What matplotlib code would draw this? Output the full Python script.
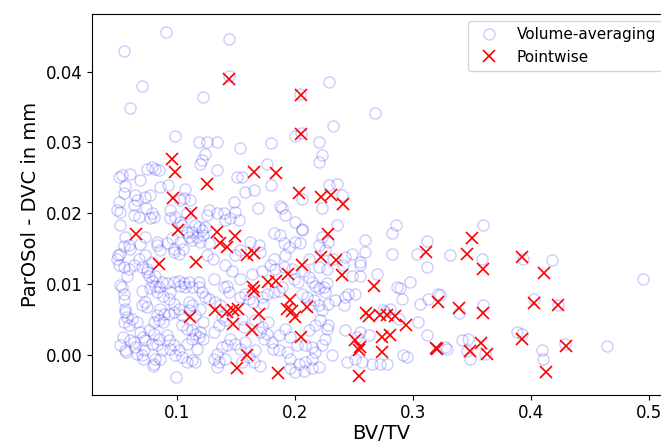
import numpy as np
import matplotlib
matplotlib.use("Agg")
from matplotlib import pyplot as plt

# Volume-averaging comparison: BV/TV vs ParOSol - DVC difference (mm)
bvtv_vol = [
    0.0909, 0.0556, 0.1441, 0.0703, 0.0604, 0.1220, 0.1441, 0.2291, 0.2049, 0.2681, 0.2325, 0.2051,
    0.0988, 0.1192, 0.1257, 0.1242, 0.1214, 0.1200, 0.0508, 0.0536, 0.0607, 0.0748, 0.0791, 0.0819,
    0.0847, 0.0692, 0.0861, 0.0929, 0.0776, 0.0649, 0.0664, 0.0636, 0.0508, 0.0494, 0.0522, 0.0551,
    0.0562, 0.1031, 0.1059, 0.1115, 0.1070, 0.0791, 0.0805, 0.0776, 0.0636, 0.0678, 0.0946, 0.0943,
    0.0986, 0.1085, 0.0731, 0.0740, 0.1031, 0.1045, 0.1158, 0.1186, 0.1130, 0.1271, 0.1257, 0.0522,
    0.0564, 0.0593, 0.0607, 0.0734, 0.0833, 0.0918, 0.0960, 0.0975, 0.1102, 0.1130, 0.1172, 0.1214,
    0.1242, 0.0522, 0.0494, 0.0678, 0.0975, 0.1017, 0.1271, 0.0689, 0.0731, 0.0831, 0.0858, 0.1028,
    0.1056, 0.0788, 0.1197, 0.1225, 0.1085, 0.1254, 0.0553, 0.0505,
    0.1342, 0.1539, 0.1802, 0.2005, 0.2208, 0.2231, 0.2203, 0.1765, 0.1342, 0.1511, 0.1553, 0.1581,
    0.1653, 0.1802, 0.2293, 0.1878, 0.1892, 0.1920, 0.1689, 0.1483, 0.1497, 0.1454, 0.1525, 0.1398,
    0.1412, 0.1342, 0.2231, 0.2059, 0.2005, 0.2062, 0.1822, 0.1907, 0.1949, 0.2005, 0.2047, 0.1624,
    0.1695, 0.1708, 0.1539, 0.1497, 0.2203, 0.2231, 0.2259, 0.2119, 0.1822, 0.1310, 0.1875, 0.2059,
    0.2285, 0.1918,
    0.2358, 0.2401, 0.2358, 0.2861, 0.2825, 0.3598, 0.2598, 0.2598, 0.2486, 0.2556, 0.2825, 0.3121,
    0.3036, 0.3319, 0.2426, 0.2327, 0.3585, 0.4178, 0.3932,
    0.0508, 0.0551, 0.0593, 0.0636, 0.0706, 0.0763, 0.0819, 0.0748, 0.0536, 0.0551, 0.0564, 0.0579,
    0.0551, 0.0593, 0.0522, 0.0564, 0.0607, 0.0636, 0.0649, 0.0706, 0.0720, 0.0734, 0.0706, 0.0748,
    0.0791, 0.0819, 0.0776, 0.0847, 0.0875, 0.0918, 0.0975, 0.1017, 0.1059, 0.1102, 0.1130, 0.1186,
    0.0890, 0.0932, 0.0975, 0.0805, 0.0847, 0.0763, 0.0805, 0.0847, 0.0734, 0.0791, 0.0833, 0.0875,
    0.0932, 0.0975, 0.1017, 0.1045, 0.1087, 0.1130, 0.1158, 0.0819, 0.0805, 0.0932, 0.0975, 0.1017,
    0.1102, 0.1130, 0.1102, 0.1158, 0.1045, 0.1087, 0.1130, 0.1158, 0.1186, 0.1130, 0.1087, 0.1186,
    0.1214, 0.1242, 0.1271, 0.1031, 0.1073, 0.0946, 0.0994, 0.0553, 0.0562, 0.0619, 0.0547, 0.0570,
    0.0661, 0.0689, 0.0717, 0.0661, 0.0717, 0.0802, 0.0858, 0.0703, 0.0746, 0.0886, 0.0831, 0.1225,
    0.1197, 0.1225, 0.1169, 0.0915, 0.0943, 0.0986, 0.0858, 0.0831, 0.0886, 0.1042, 0.1197, 0.0519,
    0.0576,
    0.1412, 0.1469, 0.1638, 0.1723, 0.1793, 0.1836, 0.1907, 0.1977, 0.2076, 0.2119, 0.2203, 0.2274,
    0.1314, 0.1398, 0.1441, 0.1581, 0.1539, 0.1610, 0.1723, 0.1765, 0.1822, 0.1864, 0.2147, 0.2175,
    0.2203, 0.2246, 0.2274, 0.2259, 0.2062, 0.2104, 0.2161, 0.2203, 0.2231, 0.1327, 0.1369, 0.1384,
    0.1412, 0.1356, 0.1314, 0.1553, 0.1568, 0.1666, 0.1723, 0.1765, 0.1737, 0.1808, 0.1864, 0.1454,
    0.1497, 0.1539, 0.1581, 0.1426, 0.1384, 0.1412, 0.1356, 0.1314, 0.1342, 0.1666, 0.1610, 0.1553,
    0.1653, 0.1708, 0.1864, 0.1935, 0.1963, 0.2034, 0.2090, 0.2147, 0.2175, 0.2203, 0.2147, 0.2076,
    0.2005, 0.1963, 0.1920, 0.1963, 0.2019, 0.2090, 0.2147, 0.2231, 0.2259, 0.2274, 0.2217, 0.2175,
    0.2119, 0.1424, 0.1536, 0.1890, 0.1997, 0.2031, 0.1649, 0.1734, 0.1776, 0.1706, 0.2130, 0.2285,
    0.2285, 0.1339, 0.1819,
    0.2454, 0.2511, 0.2426, 0.2892, 0.2907, 0.2977, 0.3062, 0.3132, 0.3217, 0.2808, 0.2751, 0.3598,
    0.3047, 0.3119, 0.2426, 0.2553, 0.3415, 0.3471, 0.3881, 0.3924, 0.4093, 0.4102, 0.4644, 0.4291,
    0.3288, 0.3486, 0.3613, 0.2920, 0.2949, 0.2780, 0.2723, 0.2653, 0.2568, 0.2441, 0.2314, 0.3231,
    0.3392, 0.4031, 0.4234, 0.3458, 0.2695, 0.2553, 0.2553, 0.2483, 0.2412, 0.4952, 0.3121, 0.2344,
    0.2415, 0.2768, 0.2881, 0.2528, 0.2627, 0.2514, 0.3276, 0.2867,
]
err_vol = [
    0.0456, 0.0429, 0.0446, 0.0379, 0.0349, 0.0364, 0.0394, 0.0385, 0.0368, 0.0342, 0.0323, 0.0313,
    0.0309, 0.0301, 0.0300, 0.0284, 0.0275, 0.0269, 0.0251, 0.0254, 0.0256, 0.0263, 0.0266, 0.0263,
    0.0261, 0.0247, 0.0237, 0.0240, 0.0226, 0.0226, 0.0219, 0.0212, 0.0216, 0.0204, 0.0202, 0.0228,
    0.0238, 0.0219, 0.0221, 0.0219, 0.0235, 0.0200, 0.0195, 0.0193, 0.0197, 0.0195, 0.0193, 0.0205,
    0.0195, 0.0200, 0.0223, 0.0208, 0.0188, 0.0183, 0.0183, 0.0181, 0.0174, 0.0205, 0.0197, 0.0183,
    0.0167, 0.0155, 0.0150, 0.0167, 0.0160, 0.0158, 0.0165, 0.0150, 0.0167, 0.0162, 0.0167, 0.0176,
    0.0181, 0.0143, 0.0136, 0.0136, 0.0146, 0.0143, 0.0158, 0.0157, 0.0141, 0.0155, 0.0148, 0.0159,
    0.0150, 0.0131, 0.0159, 0.0169, 0.0173, 0.0141, 0.0154, 0.0141,
    0.0301, 0.0292, 0.0299, 0.0309, 0.0301, 0.0282, 0.0273, 0.0270, 0.0261, 0.0251, 0.0251, 0.0230,
    0.0233, 0.0240, 0.0240, 0.0210, 0.0208, 0.0197, 0.0208, 0.0216, 0.0202, 0.0193, 0.0190, 0.0200,
    0.0190, 0.0200, 0.0207, 0.0220, 0.0188, 0.0176, 0.0172, 0.0158, 0.0153, 0.0160, 0.0158, 0.0160,
    0.0155, 0.0146, 0.0148, 0.0141, 0.0155, 0.0167, 0.0148, 0.0136, 0.0136, 0.0136, 0.0169, 0.0178,
    0.0159, 0.0141,
    0.0242, 0.0226, 0.0183, 0.0184, 0.0172, 0.0183, 0.0162, 0.0146, 0.0143, 0.0132, 0.0143, 0.0161,
    0.0143, 0.0141, 0.0138, 0.0136, 0.0136, 0.0134, 0.0135,
    0.0127, 0.0124, 0.0122, 0.0127, 0.0124, 0.0112, 0.0112, 0.0117, 0.0096, 0.0086, 0.0065, 0.0054,
    0.0047, 0.0042, 0.0014, 0.0007, 0.0021, 0.0018, 0.0011, 0.0000, 0.0007, 0.0075, 0.0070, 0.0068,
    0.0105, 0.0098, 0.0094, 0.0096, 0.0103, 0.0101, 0.0103, 0.0105, 0.0101, 0.0103, 0.0096, 0.0103,
    0.0058, 0.0058, 0.0061, 0.0047, 0.0049, 0.0035, 0.0030, 0.0023, 0.0021, 0.0016, 0.0014, 0.0007,
    0.0021, 0.0014, 0.0007, -0.0003, -0.0010, -0.0007, -0.0010, -0.0005, -0.0012, 0.0079, 0.0072, 0.0065,
    0.0075, 0.0070, 0.0063, 0.0056, 0.0042, 0.0037, 0.0035, 0.0030, 0.0025, 0.0023, 0.0016, 0.0096,
    0.0089, 0.0082, 0.0079, 0.0098, 0.0096, 0.0089, -0.0031, 0.0077, 0.0061, 0.0051, 0.0025, 0.0004,
    0.0047, 0.0032, 0.0025, 0.0002, -0.0005, -0.0015, -0.0005, 0.0091, 0.0122, 0.0084, 0.0089, 0.0047,
    0.0032, 0.0023, 0.0009, 0.0028, 0.0009, 0.0000, 0.0065, 0.0056, 0.0047, 0.0056, 0.0065, 0.0099,
    0.0112,
    0.0127, 0.0118, 0.0115, 0.0118, 0.0127, 0.0122, 0.0124, 0.0122, 0.0118, 0.0110, 0.0124, 0.0122,
    0.0108, 0.0096, 0.0089, 0.0086, 0.0082, 0.0079, 0.0082, 0.0086, 0.0089, 0.0091, 0.0103, 0.0098,
    0.0094, 0.0096, 0.0101, 0.0089, 0.0086, 0.0082, 0.0077, 0.0070, 0.0063, 0.0075, 0.0070, 0.0054,
    0.0049, 0.0042, 0.0032, 0.0051, 0.0039, 0.0049, 0.0039, 0.0030, 0.0023, 0.0018, 0.0028, 0.0023,
    0.0016, 0.0009, 0.0018, 0.0014, 0.0011, -0.0005, -0.0010, -0.0005, -0.0017, 0.0007, -0.0003, -0.0010,
    -0.0010, -0.0015, 0.0007, 0.0004, -0.0005, -0.0012, -0.0010, -0.0005, 0.0004, -0.0017, -0.0019, -0.0022,
    -0.0024, -0.0019, 0.0037, 0.0025, 0.0014, 0.0014, 0.0011, 0.0014, 0.0023, 0.0037, 0.0049, 0.0042,
    0.0035, 0.0098, 0.0108, 0.0096, 0.0108, 0.0103, 0.0075, 0.0072, 0.0047, 0.0032, 0.0070, 0.0042,
    0.0072, 0.0002, 0.0009,
    0.0086, 0.0086, 0.0082, 0.0094, 0.0079, 0.0103, 0.0072, 0.0079, 0.0086, 0.0065, 0.0063, 0.0070,
    0.0047, 0.0028, 0.0035, 0.0032, 0.0021, 0.0023, 0.0032, 0.0030, 0.0007, -0.0005, 0.0013, 0.0016,
    0.0009, -0.0006, 0.0002, 0.0000, -0.0003, -0.0012, -0.0012, -0.0012, -0.0010, -0.0010, 0.0000, 0.0085,
    0.0059, 0.0079, 0.0071, 0.0005, 0.0115, 0.0127, 0.0112, 0.0112, 0.0127, 0.0108, 0.0124, 0.0077,
    0.0070, 0.0061, 0.0051, 0.0025, 0.0028, -0.0005, 0.0011, 0.0096,
]

# Pointwise comparison
bvtv_pt = [
    0.1441, 0.2051, 0.2051, 0.0960, 0.0983, 0.1655, 0.1842, 0.1259, 0.0969, 0.2039, 0.2223, 0.2308,
    0.2407, 0.1121, 0.1007, 0.0657, 0.1339, 0.1494, 0.1367, 0.1424, 0.1593, 0.1655, 0.2285, 0.0853,
    0.1161, 0.2059, 0.1946, 0.1842, 0.1771, 0.1649, 0.1655, 0.2220, 0.1960, 0.1937, 0.1975, 0.2003,
    0.2102, 0.2053, 0.1325, 0.1424, 0.1480, 0.1522, 0.1113, 0.1475, 0.1700, 0.1641, 0.1593, 0.1514,
    0.1856, 0.2346, 0.2401, 0.2668, 0.3217, 0.2604, 0.2630, 0.2725, 0.2782, 0.2853, 0.2943, 0.2515,
    0.2556, 0.2542, 0.2737, 0.2812, 0.2740, 0.2541, 0.3197, 0.3206, 0.3113, 0.3503, 0.3464, 0.3596,
    0.3929, 0.4115, 0.3392, 0.3592, 0.4031, 0.4231, 0.3486, 0.3583, 0.3630, 0.3926, 0.4297, 0.4130,
]
err_pt = [
    0.0389, 0.0367, 0.0312, 0.0276, 0.0258, 0.0259, 0.0257, 0.0242, 0.0222, 0.0228, 0.0223, 0.0226,
    0.0213, 0.0201, 0.0177, 0.0171, 0.0173, 0.0168, 0.0158, 0.0152, 0.0141, 0.0144, 0.0171, 0.0129,
    0.0131, 0.0127, 0.0115, 0.0105, 0.0103, 0.0096, 0.0091, 0.0138, 0.0077, 0.0065, 0.0062, 0.0054,
    0.0068, 0.0025, 0.0063, 0.0061, 0.0064, 0.0065, 0.0053, 0.0044, 0.0058, 0.0035, 0.0000, -0.0019,
    -0.0025, 0.0134, 0.0113, 0.0098, 0.0075, 0.0059, 0.0055, 0.0056, 0.0056, 0.0055, 0.0042, 0.0021,
    0.0011, 0.0007, 0.0025, 0.0028, 0.0004, -0.0029, 0.0010, 0.0008, 0.0145, 0.0165, 0.0142, 0.0121,
    0.0138, 0.0116, 0.0067, 0.0059, 0.0073, 0.0070, 0.0006, 0.0017, 0.0001, 0.0023, 0.0013, -0.0024,
]

fig = plt.figure(figsize=(6.61, 4.44), dpi=100)
ax = fig.add_axes([0.1392, 0.111, 0.876, 0.857])

ax.plot(bvtv_vol, err_vol, 'o', color='blue', mfc='none', ms=8, mew=1.0,
        alpha=0.2, label='Volume-averaging')
ax.plot(bvtv_pt, err_pt, 'x', color='red', ms=8, mew=1.2, label='Pointwise')

ax.set_xlim(0.0282, 0.519)
ax.set_ylim(-0.0056, 0.0481)
ax.set_xticks([0.1, 0.2, 0.3, 0.4, 0.5])
ax.set_yticks([0.0, 0.01, 0.02, 0.03, 0.04])
ax.tick_params(labelsize=12)
ax.set_xlabel('BV/TV', fontsize=14, labelpad=1)
ax.set_ylabel('ParOSol - DVC in mm', fontsize=14)
ax.legend(loc='upper right', fontsize=11, borderaxespad=0,
          bbox_to_anchor=(1.002, 0.953), bbox_transform=fig.transFigure)

fig.savefig('out.png', dpi=100)
